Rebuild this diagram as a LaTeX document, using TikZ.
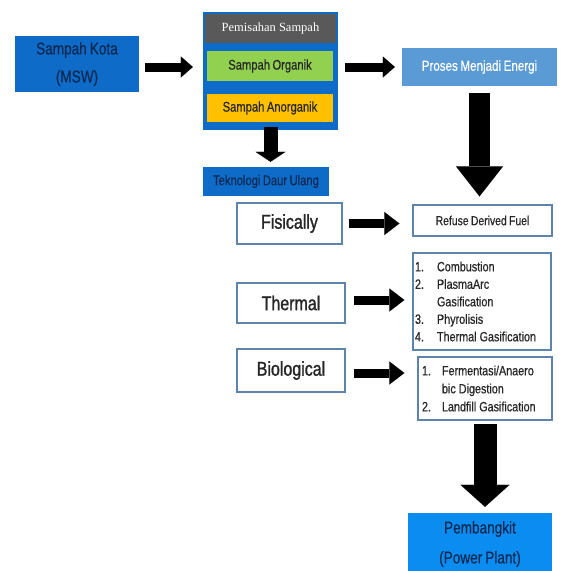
\documentclass[tikz,border=0pt]{standalone}
\usepackage{fontspec}
\setmainfont{Liberation Sans}[FakeStretch=0.8,FakeBold=0.5,WordSpace=0.8]
\newfontfamily\heavy{Liberation Sans}[FakeStretch=0.8,FakeBold=1.3,WordSpace=0.8]
\newfontfamily\serifh{Liberation Serif}
\usetikzlibrary{arrows.meta,calc}
\definecolor{mblue}{HTML}{0E6BC8}
\definecolor{lblue}{HTML}{5B9BD5}
\definecolor{bblue}{HTML}{0A8CF0}
\definecolor{hgray}{HTML}{595959}
\definecolor{ggreen}{HTML}{92D050}
\definecolor{gorange}{HTML}{FFC000}
\definecolor{navy}{HTML}{0C2A52}
\definecolor{bordc}{HTML}{5E83AE}
\definecolor{dtext}{HTML}{262626}
\newcommand{\wsp}{\hspace{3pt}}
\tikzset{
  sz/.style 2 args={minimum width=#1, minimum height=#2, inner sep=0pt},
  wbox/.style={draw=bordc, line width=1.3pt, fill=white, text=dtext},
  fsz/.style={font=\fontsize{#1}{#1}\selectfont},
  hsz/.style={font=\heavy\fontsize{#1}{#1}\selectfont},
  barrow/.style n args={3}{draw=black, line width=#1,
     -{Triangle[width=#2, length=#3, line width=0.01pt]}},
}
\begin{document}
\begin{tikzpicture}[x=1pt,y=-1pt]
\useasboundingbox (0,0) rectangle (561,571);
\fill[white] (0,0) rectangle (561,571);

% top row
\node[sz={124}{56}, fill=mblue, text=navy, align=center,
      font=\fontsize{17}{28}\selectfont] (sk) at (77,64) {Sampah Kota\\(MSW)};
\node[sz={135}{118}, fill=mblue] (pem) at (270.5,71) {};
\node[sz={131}{29}, fill=hgray, text=white,
      font=\serifh\fontsize{12.5}{14}\selectfont] (hdr) at (270.5,28.5) {Pemisahan Sampah};
\node[sz={126}{30}, fill=ggreen, text=dtext, fsz=14] (org) at (270,66) {Sampah Organik};
\node[sz={126}{28}, fill=gorange, text=dtext, fsz=14] (anorg) at (270,108) {Sampah Anorganik};
\node[sz={126}{29}, fill=mblue, text=navy, fsz=14] (tek) at (266,181.5) {Teknologi Daur Ulang};
\node[sz={155}{38}, fill=lblue, text=white, fsz=14.5] (pro) at (479.5,67) {Proses Menjadi Energi};

% left column
\node[wbox, sz={105}{41}, hsz=20] (fis) at (289.5,223.5) {Fisically};
\node[wbox, sz={108}{40}, hsz=20] (thm) at (291,303) {Thermal};
\node[wbox, sz={108}{43}, hsz=20] (bio) at (291,370.5) {Biological};

% right column
\node[wbox, sz={139}{31}, fsz=13] (ref) at (482.5,220.5) {Refuse Derived Fuel};
\node[wbox, sz={138}{97}, text width=134pt, inner xsep=2pt, align=left,
      font=\fontsize{13.5}{17.5}\selectfont] (tl) at (482,301.5)
  {\makebox[22pt][l]{1.}Combustion\\
   \makebox[22pt][l]{2.}PlasmaArc\\
   \hspace*{22pt}Gasification\\
   \makebox[22pt][l]{3.}Phyrolisis\\
   \makebox[22pt][l]{4.}Thermal\wsp Gasification};
\node[wbox, sz={134}{63}, text width=126pt, inner xsep=4pt, align=left,
      font=\fontsize{13.5}{18}\selectfont] (bl) at (485,388.5)
  {\makebox[20pt][l]{1.}Fermentasi/Anaero\\
   \hspace*{20pt}bic\wsp Digestion\\
   \makebox[20pt][l]{2.}Landfill\wsp Gasification};
\node[sz={144}{62}, fill=bblue, text=navy, align=center,
      font=\fontsize{17}{30}\selectfont] (pwr) at (480,544) {Pembangkit\\(Power Plant)};

% arrows
\draw[barrow={9pt}{21pt}{12pt}, shorten <=6pt, shorten >=10pt]
  ($(sk.east)+(0,3)$) -- ($(sk.east -| pem.west)+(0,3)$);
\draw[barrow={9pt}{21pt}{12pt}, shorten <=7pt, shorten >=7pt]
  (pem.east |- pro.west) -- (pro.west);
\draw[barrow={14pt}{30pt}{10pt}, shorten <=-3pt, shorten >=5pt]
  (pem.south) -- (pem.south |- tek.north);
\draw[barrow={21pt}{47pt}{30pt}, shorten <=7pt, shorten >=8pt]
  (pro.south) -- (pro.south |- ref.north);
\draw[barrow={9pt}{23pt}{15pt}, shorten <=6pt, shorten >=13pt]
  (fis.east) -- (fis.east -| ref.west);
\draw[barrow={9pt}{23pt}{15pt}, shorten <=8pt, shorten >=8pt]
  ($(thm.east)+(0,-3)$) -- ($(thm.east -| tl.west)+(0,-3)$);
\draw[barrow={9pt}{23pt}{15pt}, shorten <=8pt, shorten >=13pt]
  ($(bio.east)+(0,2.5)$) -- ($(bio.east -| bl.west)+(0,2.5)$);
\draw[barrow={23pt}{49pt}{22pt}, shorten <=3pt, shorten >=6pt]
  (bl.south) -- (bl.south |- pwr.north);
\end{tikzpicture}
\end{document}
